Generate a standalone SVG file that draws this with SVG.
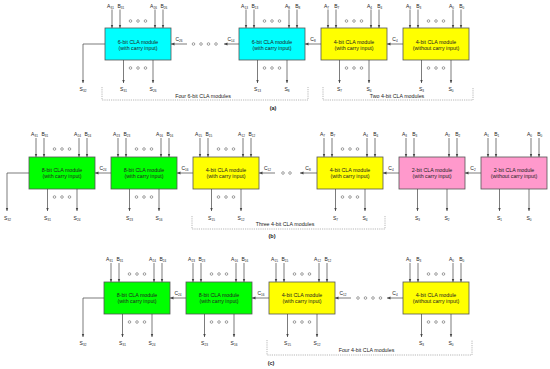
<svg xmlns="http://www.w3.org/2000/svg" width="550" height="369" viewBox="0 0 550 369">
<style>
.bg{fill:#fff}
.box{stroke:#555;stroke-width:0.8}
.cy{fill:#00ffff}.ye{fill:#ffff00}.gr{fill:#00ff00}.pk{fill:#ff99cc}
.w{stroke:#444;stroke-width:0.7;fill:none}
.a{marker-end:url(#ah)}
.d{fill:none;stroke:#555;stroke-width:0.55}
text{font-family:"Liberation Sans",Arial,sans-serif;fill:#222;text-anchor:middle}
.t{font-size:5.3px}
.l{font-size:5px}
.s{font-size:3.1px}
.br{stroke:#888;stroke-dasharray:1.2 1;fill:none;stroke-width:0.6}
.cap{font-size:5.5px;font-weight:bold}
</style>
<defs>
<marker id="ah" markerWidth="4" markerHeight="4" refX="3.5" refY="2" orient="auto" markerUnits="userSpaceOnUse"><path d="M0,0.6 L3.5,2 L0,3.4 z" fill="#444"/></marker>
</defs>
<rect class="bg" x="0" y="0" width="550" height="369"/>

<!-- ===== Row (a) ===== -->
<g id="a1">
<rect class="box cy" x="105" y="28" width="66" height="32"/>
<text class="t" x="138" y="43.5">6-bit CLA module</text>
<text class="t" x="138" y="49.5">(with carry input)</text>
<text class="l" x="110.5" y="7.8">A<tspan class="s" dy="1.1">31</tspan></text>
<text class="l" x="120.8" y="7.8">B<tspan class="s" dy="1.1">31</tspan></text>
<text class="l" x="153.5" y="7.8">A<tspan class="s" dy="1.1">26</tspan></text>
<text class="l" x="163.8" y="7.8">B<tspan class="s" dy="1.1">26</tspan></text>
<line class="w a" x1="112" y1="9.5" x2="112" y2="28"/><line class="w a" x1="120" y1="9.5" x2="120" y2="28"/>
<line class="w a" x1="155" y1="9.5" x2="155" y2="28"/><line class="w a" x1="163" y1="9.5" x2="163" y2="28"/>
<circle class="d" cx="130.5" cy="21" r="1.3"/><circle class="d" cx="138" cy="21" r="1.3"/><circle class="d" cx="145.5" cy="21" r="1.3"/>
<line class="w a" x1="123.5" y1="60" x2="123.5" y2="83"/><line class="w a" x1="153" y1="60" x2="153" y2="83"/>
<circle class="d" cx="130.5" cy="68" r="1.3"/><circle class="d" cx="138" cy="68" r="1.3"/><circle class="d" cx="145.5" cy="68" r="1.3"/>
<text class="l" x="123.5" y="91">S<tspan class="s" dy="1.1">31</tspan></text>
<text class="l" x="153" y="91">S<tspan class="s" dy="1.1">26</tspan></text>
</g>
<g id="a2">
<rect class="box cy" x="239" y="28" width="66" height="32"/>
<text class="t" x="272" y="43.5">6-bit CLA module</text>
<text class="t" x="272" y="49.5">(with carry input)</text>
<text class="l" x="244.5" y="7.8">A<tspan class="s" dy="1.1">13</tspan></text>
<text class="l" x="254.8" y="7.8">B<tspan class="s" dy="1.1">13</tspan></text>
<text class="l" x="287.5" y="7.8">A<tspan class="s" dy="1.1">8</tspan></text>
<text class="l" x="297.8" y="7.8">B<tspan class="s" dy="1.1">8</tspan></text>
<line class="w a" x1="246" y1="9.5" x2="246" y2="28"/><line class="w a" x1="254" y1="9.5" x2="254" y2="28"/>
<line class="w a" x1="289" y1="9.5" x2="289" y2="28"/><line class="w a" x1="297" y1="9.5" x2="297" y2="28"/>
<circle class="d" cx="264.5" cy="21" r="1.3"/><circle class="d" cx="272" cy="21" r="1.3"/><circle class="d" cx="279.5" cy="21" r="1.3"/>
<line class="w a" x1="257.5" y1="60" x2="257.5" y2="83"/><line class="w a" x1="287" y1="60" x2="287" y2="83"/>
<circle class="d" cx="264.5" cy="68" r="1.3"/><circle class="d" cx="272" cy="68" r="1.3"/><circle class="d" cx="279.5" cy="68" r="1.3"/>
<text class="l" x="257.5" y="91">S<tspan class="s" dy="1.1">13</tspan></text>
<text class="l" x="287" y="91">S<tspan class="s" dy="1.1">8</tspan></text>
</g>
<g id="a3">
<rect class="box ye" x="321" y="28" width="66" height="32"/>
<text class="t" x="354" y="43.5">4-bit CLA module</text>
<text class="t" x="354" y="49.5">(with carry input)</text>
<text class="l" x="326.5" y="7.8">A<tspan class="s" dy="1.1">7</tspan></text>
<text class="l" x="336.8" y="7.8">B<tspan class="s" dy="1.1">7</tspan></text>
<text class="l" x="369.5" y="7.8">A<tspan class="s" dy="1.1">4</tspan></text>
<text class="l" x="379.8" y="7.8">B<tspan class="s" dy="1.1">4</tspan></text>
<line class="w a" x1="328" y1="9.5" x2="328" y2="28"/><line class="w a" x1="336" y1="9.5" x2="336" y2="28"/>
<line class="w a" x1="371" y1="9.5" x2="371" y2="28"/><line class="w a" x1="379" y1="9.5" x2="379" y2="28"/>
<circle class="d" cx="346.5" cy="21" r="1.3"/><circle class="d" cx="354" cy="21" r="1.3"/><circle class="d" cx="361.5" cy="21" r="1.3"/>
<line class="w a" x1="339.5" y1="60" x2="339.5" y2="83"/><line class="w a" x1="369" y1="60" x2="369" y2="83"/>
<circle class="d" cx="346.5" cy="68" r="1.3"/><circle class="d" cx="354" cy="68" r="1.3"/><circle class="d" cx="361.5" cy="68" r="1.3"/>
<text class="l" x="339.5" y="91">S<tspan class="s" dy="1.1">7</tspan></text>
<text class="l" x="369" y="91">S<tspan class="s" dy="1.1">4</tspan></text>
</g>
<g id="a4">
<rect class="box ye" x="403" y="28" width="66" height="32"/>
<text class="t" x="436" y="43.5">4-bit CLA module</text>
<text class="t" x="436" y="49.5">(without carry input)</text>
<text class="l" x="408.5" y="7.8">A<tspan class="s" dy="1.1">3</tspan></text>
<text class="l" x="418.8" y="7.8">B<tspan class="s" dy="1.1">3</tspan></text>
<text class="l" x="451.5" y="7.8">A<tspan class="s" dy="1.1">0</tspan></text>
<text class="l" x="461.8" y="7.8">B<tspan class="s" dy="1.1">0</tspan></text>
<line class="w a" x1="410" y1="9.5" x2="410" y2="28"/><line class="w a" x1="418" y1="9.5" x2="418" y2="28"/>
<line class="w a" x1="453" y1="9.5" x2="453" y2="28"/><line class="w a" x1="461" y1="9.5" x2="461" y2="28"/>
<circle class="d" cx="428.5" cy="21" r="1.3"/><circle class="d" cx="436" cy="21" r="1.3"/><circle class="d" cx="443.5" cy="21" r="1.3"/>
<line class="w a" x1="421.5" y1="60" x2="421.5" y2="83"/><line class="w a" x1="451" y1="60" x2="451" y2="83"/>
<circle class="d" cx="428.5" cy="68" r="1.3"/><circle class="d" cx="436" cy="68" r="1.3"/><circle class="d" cx="443.5" cy="68" r="1.3"/>
<text class="l" x="421.5" y="91">S<tspan class="s" dy="1.1">3</tspan></text>
<text class="l" x="451" y="91">S<tspan class="s" dy="1.1">0</tspan></text>
</g>

<!-- ===== Row (b) ===== -->
<g id="b1">
<rect class="box gr" x="29" y="157" width="66" height="32"/>
<text class="t" x="62" y="172">8-bit CLA module</text>
<text class="t" x="62" y="178">(with carry input)</text>
<text class="l" x="34.5" y="136">A<tspan class="s" dy="1.1">31</tspan></text>
<text class="l" x="44.8" y="136">B<tspan class="s" dy="1.1">31</tspan></text>
<text class="l" x="77.5" y="136">A<tspan class="s" dy="1.1">24</tspan></text>
<text class="l" x="87.8" y="136">B<tspan class="s" dy="1.1">24</tspan></text>
<line class="w a" x1="36" y1="138" x2="36" y2="157"/><line class="w a" x1="44" y1="138" x2="44" y2="157"/>
<line class="w a" x1="79" y1="138" x2="79" y2="157"/><line class="w a" x1="87" y1="138" x2="87" y2="157"/>
<circle class="d" cx="54.5" cy="149" r="1.3"/><circle class="d" cx="62" cy="149" r="1.3"/><circle class="d" cx="69.5" cy="149" r="1.3"/>
<line class="w a" x1="47.5" y1="189" x2="47.5" y2="211"/><line class="w a" x1="77" y1="189" x2="77" y2="211"/>
<circle class="d" cx="54.5" cy="197" r="1.3"/><circle class="d" cx="62" cy="197" r="1.3"/><circle class="d" cx="69.5" cy="197" r="1.3"/>
<text class="l" x="47.5" y="220">S<tspan class="s" dy="1.1">31</tspan></text>
<text class="l" x="77" y="220">S<tspan class="s" dy="1.1">24</tspan></text>
</g>
<g id="b2">
<rect class="box gr" x="111" y="157" width="66" height="32"/>
<text class="t" x="144" y="172">8-bit CLA module</text>
<text class="t" x="144" y="178">(with carry input)</text>
<text class="l" x="116.5" y="136">A<tspan class="s" dy="1.1">23</tspan></text>
<text class="l" x="126.8" y="136">B<tspan class="s" dy="1.1">23</tspan></text>
<text class="l" x="159.5" y="136">A<tspan class="s" dy="1.1">16</tspan></text>
<text class="l" x="169.8" y="136">B<tspan class="s" dy="1.1">16</tspan></text>
<line class="w a" x1="118" y1="138" x2="118" y2="157"/><line class="w a" x1="126" y1="138" x2="126" y2="157"/>
<line class="w a" x1="161" y1="138" x2="161" y2="157"/><line class="w a" x1="169" y1="138" x2="169" y2="157"/>
<circle class="d" cx="136.5" cy="149" r="1.3"/><circle class="d" cx="144" cy="149" r="1.3"/><circle class="d" cx="151.5" cy="149" r="1.3"/>
<line class="w a" x1="129.5" y1="189" x2="129.5" y2="211"/><line class="w a" x1="159" y1="189" x2="159" y2="211"/>
<circle class="d" cx="136.5" cy="197" r="1.3"/><circle class="d" cx="144" cy="197" r="1.3"/><circle class="d" cx="151.5" cy="197" r="1.3"/>
<text class="l" x="129.5" y="220">S<tspan class="s" dy="1.1">23</tspan></text>
<text class="l" x="159" y="220">S<tspan class="s" dy="1.1">16</tspan></text>
</g>
<g id="b3">
<rect class="box ye" x="193" y="157" width="66" height="32"/>
<text class="t" x="226" y="172">4-bit CLA module</text>
<text class="t" x="226" y="178">(with carry input)</text>
<text class="l" x="198.5" y="136">A<tspan class="s" dy="1.1">15</tspan></text>
<text class="l" x="208.8" y="136">B<tspan class="s" dy="1.1">15</tspan></text>
<text class="l" x="241.5" y="136">A<tspan class="s" dy="1.1">12</tspan></text>
<text class="l" x="251.8" y="136">B<tspan class="s" dy="1.1">12</tspan></text>
<line class="w a" x1="200" y1="138" x2="200" y2="157"/><line class="w a" x1="208" y1="138" x2="208" y2="157"/>
<line class="w a" x1="243" y1="138" x2="243" y2="157"/><line class="w a" x1="251" y1="138" x2="251" y2="157"/>
<circle class="d" cx="218.5" cy="149" r="1.3"/><circle class="d" cx="226" cy="149" r="1.3"/><circle class="d" cx="233.5" cy="149" r="1.3"/>
<line class="w a" x1="211.5" y1="189" x2="211.5" y2="211"/><line class="w a" x1="241" y1="189" x2="241" y2="211"/>
<circle class="d" cx="218.5" cy="197" r="1.3"/><circle class="d" cx="226" cy="197" r="1.3"/><circle class="d" cx="233.5" cy="197" r="1.3"/>
<text class="l" x="211.5" y="220">S<tspan class="s" dy="1.1">15</tspan></text>
<text class="l" x="241" y="220">S<tspan class="s" dy="1.1">12</tspan></text>
</g>
<g id="b4">
<rect class="box ye" x="317" y="157" width="66" height="32"/>
<text class="t" x="350" y="172">4-bit CLA module</text>
<text class="t" x="350" y="178">(with carry input)</text>
<text class="l" x="322.5" y="136">A<tspan class="s" dy="1.1">7</tspan></text>
<text class="l" x="332.8" y="136">B<tspan class="s" dy="1.1">7</tspan></text>
<text class="l" x="365.5" y="136">A<tspan class="s" dy="1.1">4</tspan></text>
<text class="l" x="375.8" y="136">B<tspan class="s" dy="1.1">4</tspan></text>
<line class="w a" x1="324" y1="138" x2="324" y2="157"/><line class="w a" x1="332" y1="138" x2="332" y2="157"/>
<line class="w a" x1="367" y1="138" x2="367" y2="157"/><line class="w a" x1="375" y1="138" x2="375" y2="157"/>
<circle class="d" cx="342.5" cy="149" r="1.3"/><circle class="d" cx="350" cy="149" r="1.3"/><circle class="d" cx="357.5" cy="149" r="1.3"/>
<line class="w a" x1="335.5" y1="189" x2="335.5" y2="211"/><line class="w a" x1="365" y1="189" x2="365" y2="211"/>
<circle class="d" cx="342.5" cy="197" r="1.3"/><circle class="d" cx="350" cy="197" r="1.3"/><circle class="d" cx="357.5" cy="197" r="1.3"/>
<text class="l" x="335.5" y="220">S<tspan class="s" dy="1.1">7</tspan></text>
<text class="l" x="365" y="220">S<tspan class="s" dy="1.1">4</tspan></text>
</g>
<g id="b5">
<rect class="box pk" x="399" y="157" width="66" height="32"/>
<text class="t" x="432" y="172">2-bit CLA module</text>
<text class="t" x="432" y="178">(with carry input)</text>
<text class="l" x="404.5" y="136">A<tspan class="s" dy="1.1">3</tspan></text>
<text class="l" x="414.8" y="136">B<tspan class="s" dy="1.1">3</tspan></text>
<text class="l" x="447.5" y="136">A<tspan class="s" dy="1.1">2</tspan></text>
<text class="l" x="457.8" y="136">B<tspan class="s" dy="1.1">2</tspan></text>
<line class="w a" x1="406" y1="138" x2="406" y2="157"/><line class="w a" x1="414" y1="138" x2="414" y2="157"/>
<line class="w a" x1="449" y1="138" x2="449" y2="157"/><line class="w a" x1="457" y1="138" x2="457" y2="157"/>
<line class="w a" x1="417.5" y1="189" x2="417.5" y2="211"/><line class="w a" x1="447" y1="189" x2="447" y2="211"/>
<text class="l" x="417.5" y="220">S<tspan class="s" dy="1.1">3</tspan></text>
<text class="l" x="447" y="220">S<tspan class="s" dy="1.1">2</tspan></text>
</g>
<g id="b6">
<rect class="box pk" x="481" y="157" width="66" height="32"/>
<text class="t" x="514" y="172">2-bit CLA module</text>
<text class="t" x="514" y="178">(without carry input)</text>
<text class="l" x="486.5" y="136">A<tspan class="s" dy="1.1">1</tspan></text>
<text class="l" x="496.8" y="136">B<tspan class="s" dy="1.1">1</tspan></text>
<text class="l" x="529.5" y="136">A<tspan class="s" dy="1.1">0</tspan></text>
<text class="l" x="539.8" y="136">B<tspan class="s" dy="1.1">0</tspan></text>
<line class="w a" x1="488" y1="138" x2="488" y2="157"/><line class="w a" x1="496" y1="138" x2="496" y2="157"/>
<line class="w a" x1="531" y1="138" x2="531" y2="157"/><line class="w a" x1="539" y1="138" x2="539" y2="157"/>
<line class="w a" x1="499.5" y1="189" x2="499.5" y2="211"/><line class="w a" x1="529" y1="189" x2="529" y2="211"/>
<text class="l" x="499.5" y="220">S<tspan class="s" dy="1.1">1</tspan></text>
<text class="l" x="529" y="220">S<tspan class="s" dy="1.1">0</tspan></text>
</g>

<!-- ===== Row (c) ===== -->
<g id="c1">
<rect class="box gr" x="104" y="282" width="66" height="32"/>
<text class="t" x="137" y="297">8-bit CLA module</text>
<text class="t" x="137" y="303">(with carry input)</text>
<text class="l" x="109.5" y="261">A<tspan class="s" dy="1.1">31</tspan></text>
<text class="l" x="119.8" y="261">B<tspan class="s" dy="1.1">31</tspan></text>
<text class="l" x="152.5" y="261">A<tspan class="s" dy="1.1">24</tspan></text>
<text class="l" x="162.8" y="261">B<tspan class="s" dy="1.1">24</tspan></text>
<line class="w a" x1="111" y1="263" x2="111" y2="282"/><line class="w a" x1="119" y1="263" x2="119" y2="282"/>
<line class="w a" x1="154" y1="263" x2="154" y2="282"/><line class="w a" x1="162" y1="263" x2="162" y2="282"/>
<circle class="d" cx="129.5" cy="274" r="1.3"/><circle class="d" cx="137" cy="274" r="1.3"/><circle class="d" cx="144.5" cy="274" r="1.3"/>
<line class="w a" x1="122.5" y1="314" x2="122.5" y2="337"/><line class="w a" x1="152" y1="314" x2="152" y2="337"/>
<circle class="d" cx="129.5" cy="322" r="1.3"/><circle class="d" cx="137" cy="322" r="1.3"/><circle class="d" cx="144.5" cy="322" r="1.3"/>
<text class="l" x="122.5" y="345">S<tspan class="s" dy="1.1">31</tspan></text>
<text class="l" x="152" y="345">S<tspan class="s" dy="1.1">24</tspan></text>
</g>
<g id="c2">
<rect class="box gr" x="186" y="282" width="66" height="32"/>
<text class="t" x="219" y="297">8-bit CLA module</text>
<text class="t" x="219" y="303">(with carry input)</text>
<text class="l" x="191.5" y="261">A<tspan class="s" dy="1.1">23</tspan></text>
<text class="l" x="201.8" y="261">B<tspan class="s" dy="1.1">23</tspan></text>
<text class="l" x="234.5" y="261">A<tspan class="s" dy="1.1">16</tspan></text>
<text class="l" x="244.8" y="261">B<tspan class="s" dy="1.1">16</tspan></text>
<line class="w a" x1="193" y1="263" x2="193" y2="282"/><line class="w a" x1="201" y1="263" x2="201" y2="282"/>
<line class="w a" x1="236" y1="263" x2="236" y2="282"/><line class="w a" x1="244" y1="263" x2="244" y2="282"/>
<circle class="d" cx="211.5" cy="274" r="1.3"/><circle class="d" cx="219" cy="274" r="1.3"/><circle class="d" cx="226.5" cy="274" r="1.3"/>
<line class="w a" x1="204.5" y1="314" x2="204.5" y2="337"/><line class="w a" x1="234" y1="314" x2="234" y2="337"/>
<circle class="d" cx="211.5" cy="322" r="1.3"/><circle class="d" cx="219" cy="322" r="1.3"/><circle class="d" cx="226.5" cy="322" r="1.3"/>
<text class="l" x="204.5" y="345">S<tspan class="s" dy="1.1">23</tspan></text>
<text class="l" x="234" y="345">S<tspan class="s" dy="1.1">16</tspan></text>
</g>
<g id="c3">
<rect class="box ye" x="269" y="282" width="66" height="32"/>
<text class="t" x="302" y="297">4-bit CLA module</text>
<text class="t" x="302" y="303">(with carry input)</text>
<text class="l" x="274.5" y="261">A<tspan class="s" dy="1.1">15</tspan></text>
<text class="l" x="284.8" y="261">B<tspan class="s" dy="1.1">15</tspan></text>
<text class="l" x="317.5" y="261">A<tspan class="s" dy="1.1">12</tspan></text>
<text class="l" x="327.8" y="261">B<tspan class="s" dy="1.1">12</tspan></text>
<line class="w a" x1="276" y1="263" x2="276" y2="282"/><line class="w a" x1="284" y1="263" x2="284" y2="282"/>
<line class="w a" x1="319" y1="263" x2="319" y2="282"/><line class="w a" x1="327" y1="263" x2="327" y2="282"/>
<circle class="d" cx="294.5" cy="274" r="1.3"/><circle class="d" cx="302" cy="274" r="1.3"/><circle class="d" cx="309.5" cy="274" r="1.3"/>
<line class="w a" x1="287.5" y1="314" x2="287.5" y2="337"/><line class="w a" x1="317" y1="314" x2="317" y2="337"/>
<circle class="d" cx="294.5" cy="322" r="1.3"/><circle class="d" cx="302" cy="322" r="1.3"/><circle class="d" cx="309.5" cy="322" r="1.3"/>
<text class="l" x="287.5" y="345">S<tspan class="s" dy="1.1">15</tspan></text>
<text class="l" x="317" y="345">S<tspan class="s" dy="1.1">12</tspan></text>
</g>
<g id="c4">
<rect class="box ye" x="403" y="282" width="66" height="32"/>
<text class="t" x="436" y="297">4-bit CLA module</text>
<text class="t" x="436" y="303">(without carry input)</text>
<text class="l" x="408.5" y="261">A<tspan class="s" dy="1.1">3</tspan></text>
<text class="l" x="418.8" y="261">B<tspan class="s" dy="1.1">3</tspan></text>
<text class="l" x="451.5" y="261">A<tspan class="s" dy="1.1">0</tspan></text>
<text class="l" x="461.8" y="261">B<tspan class="s" dy="1.1">0</tspan></text>
<line class="w a" x1="410" y1="263" x2="410" y2="282"/><line class="w a" x1="418" y1="263" x2="418" y2="282"/>
<line class="w a" x1="453" y1="263" x2="453" y2="282"/><line class="w a" x1="461" y1="263" x2="461" y2="282"/>
<circle class="d" cx="428.5" cy="274" r="1.3"/><circle class="d" cx="436" cy="274" r="1.3"/><circle class="d" cx="443.5" cy="274" r="1.3"/>
<line class="w a" x1="421.5" y1="314" x2="421.5" y2="337"/><line class="w a" x1="451" y1="314" x2="451" y2="337"/>
<circle class="d" cx="428.5" cy="322" r="1.3"/><circle class="d" cx="436" cy="322" r="1.3"/><circle class="d" cx="443.5" cy="322" r="1.3"/>
<text class="l" x="421.5" y="345">S<tspan class="s" dy="1.1">3</tspan></text>
<text class="l" x="451" y="345">S<tspan class="s" dy="1.1">0</tspan></text>
</g>

<!-- ===== Connectors ===== -->
<g id="connectors">
<!-- row a -->
<path class="w a" d="M105,44 H83 V83"/>
<text class="l" x="83" y="91">S<tspan class="s" dy="1.1">32</tspan></text>
<line class="w a" x1="187" y1="44" x2="171" y2="44"/>
<text class="l" x="179" y="41">C<tspan class="s" dy="1.1">26</tspan></text>
<circle class="d" cx="193.5" cy="44" r="1.3"/><circle class="d" cx="201" cy="44" r="1.3"/><circle class="d" cx="208.5" cy="44" r="1.3"/><circle class="d" cx="216" cy="44" r="1.3"/>
<line class="w a" x1="239" y1="44" x2="224" y2="44"/>
<text class="l" x="231" y="41">C<tspan class="s" dy="1.1">14</tspan></text>
<line class="w a" x1="321" y1="44" x2="305" y2="44"/>
<text class="l" x="313" y="41">C<tspan class="s" dy="1.1">8</tspan></text>
<line class="w a" x1="403" y1="44" x2="387" y2="44"/>
<text class="l" x="395" y="41">C<tspan class="s" dy="1.1">4</tspan></text>
<!-- row b -->
<path class="w a" d="M29,173 H7 V211"/>
<text class="l" x="7.5" y="220">S<tspan class="s" dy="1.1">32</tspan></text>
<line class="w a" x1="111" y1="173" x2="95" y2="173"/>
<text class="l" x="103" y="169.5">C<tspan class="s" dy="1.1">24</tspan></text>
<line class="w a" x1="193" y1="173" x2="177" y2="173"/>
<text class="l" x="185" y="169.5">C<tspan class="s" dy="1.1">16</tspan></text>
<line class="w a" x1="275" y1="173" x2="259" y2="173"/>
<text class="l" x="267.5" y="169.5">C<tspan class="s" dy="1.1">12</tspan></text>
<circle class="d" cx="283" cy="173" r="1.3"/><circle class="d" cx="290" cy="173" r="1.3"/>
<line class="w a" x1="317" y1="173" x2="300" y2="173"/>
<text class="l" x="308" y="169.5">C<tspan class="s" dy="1.1">8</tspan></text>
<line class="w a" x1="399" y1="173" x2="383" y2="173"/>
<text class="l" x="391" y="169.5">C<tspan class="s" dy="1.1">4</tspan></text>
<line class="w a" x1="481" y1="173" x2="465" y2="173"/>
<text class="l" x="473" y="169.5">C<tspan class="s" dy="1.1">2</tspan></text>
<!-- row c -->
<path class="w a" d="M104,298 H83 V337"/>
<text class="l" x="83" y="345">S<tspan class="s" dy="1.1">32</tspan></text>
<line class="w a" x1="186" y1="298" x2="170" y2="298"/>
<text class="l" x="178" y="294.5">C<tspan class="s" dy="1.1">24</tspan></text>
<line class="w a" x1="269" y1="298" x2="252" y2="298"/>
<text class="l" x="261" y="294.5">C<tspan class="s" dy="1.1">16</tspan></text>
<line class="w a" x1="351" y1="298" x2="335" y2="298"/>
<text class="l" x="343" y="294.5">C<tspan class="s" dy="1.1">12</tspan></text>
<circle class="d" cx="358" cy="298" r="1.3"/><circle class="d" cx="365.5" cy="298" r="1.3"/><circle class="d" cx="373" cy="298" r="1.3"/><circle class="d" cx="380.5" cy="298" r="1.3"/>
<line class="w a" x1="403" y1="298" x2="387" y2="298"/>
<text class="l" x="395" y="294.5">C<tspan class="s" dy="1.1">4</tspan></text>
</g>

<!-- brackets and captions -->
<g id="groups">
<path class="br" d="M102,87 V100 H308 V87"/>
<text class="t" x="203" y="98">Four 6-bit CLA modules</text>
<path class="br" d="M323,87 V100 H473 V87"/>
<text class="t" x="397" y="98">Two 4-bit CLA modules</text>
<text class="cap" x="273" y="110">(a)</text>
<path class="br" d="M192,216 V229 H385 V216"/>
<text class="t" x="285" y="226">Three 4-bit CLA modules</text>
<text class="cap" x="272" y="238">(b)</text>
<path class="br" d="M267,340 V355 H472 V340"/>
<text class="t" x="366.5" y="352">Four 4-bit CLA modules</text>
<text class="cap" x="271" y="365">(c)</text>
</g>
</svg>
